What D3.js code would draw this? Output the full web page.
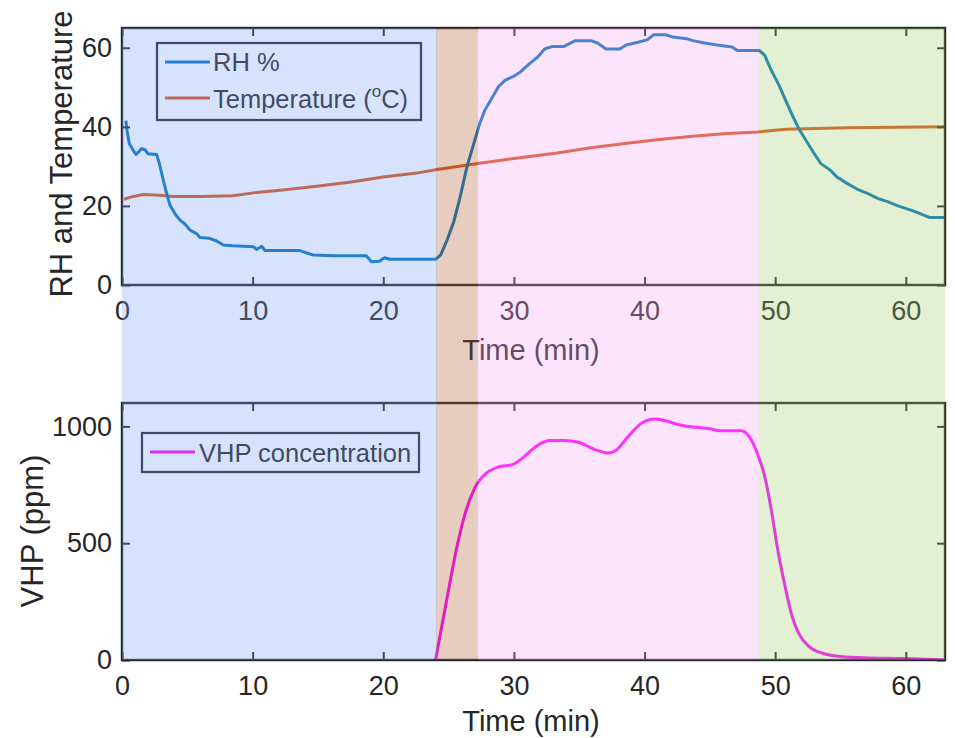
<!DOCTYPE html>
<html>
<head>
<meta charset="utf-8">
<script src="https://cdn.jsdelivr.net/npm/d3@7"></script>
<style>
  html, body { margin: 0; padding: 0; background: #fff; }
  svg text { font-family: "Liberation Sans", Arial, Helvetica, sans-serif; fill: #262626; }
</style>
</head>
<body>
<svg id="chart" width="955" height="738"></svg>
<script>
// ── Data ────────────────────────────────────────────────────────────────────
var rhTime = [0.3, 0.36, 0.56, 0.87, 1.07, 1.25, 1.5, 1.76, 2.0, 2.65, 2.86, 3.16, 3.42, 3.67, 4.06,
  4.44, 4.8, 5.2, 5.7, 5.97, 6.7, 7.2, 7.76, 8.5, 10.05, 10.3, 10.7, 10.95, 13.6, 14.6, 16.2, 18.7,
  19.1, 19.7, 20.1, 20.5, 24.0, 24.4, 24.9, 25.4, 25.9, 26.4, 26.95, 27.38, 27.77, 28.29, 28.8,
  29.34, 29.99, 30.5, 31.2, 31.8, 32.35, 32.9, 33.8, 34.7, 35.9, 36.4, 37.05, 38.1, 38.6, 39.5,
  40.2, 40.7, 41.6, 42.2, 43.2, 43.7, 44.6, 45.55, 46.7, 47.1, 48.8, 49.2, 49.7, 50.3, 50.8, 51.3,
  51.8, 52.35, 52.9, 53.5, 54.2, 54.7, 55.5, 56.3, 57.06, 57.84, 58.6, 59.4, 60.5, 61, 61.8, 63];
var rhValue = [41.6, 39.5, 35.7, 34, 33, 33.6, 34.5, 34.2, 33.2, 33, 30.7, 26.5, 23.1, 20.2, 18,
  16.4, 15.5, 13.9, 13, 12, 11.8, 11.2, 10.1, 9.9, 9.7, 9, 9.8, 8.7, 8.7, 7.6, 7.4, 7.4,
  5.9, 6, 6.9, 6.5, 6.5, 7.6, 11.5, 16, 22.5, 29.8, 36, 40.8, 44.2, 47.1, 50.1,
  51.8, 52.8, 53.9, 56, 57.6, 59.7, 60.3, 60.3, 61.8, 61.8, 61.2, 59.7, 59.7, 60.7, 61.4,
  62, 63.3, 63.3, 62.7, 62.3, 61.8, 61.2, 60.7, 60.2, 59.3, 59.3, 58.1, 54.3, 50.5, 46.7, 43,
  39.6, 36.6, 33.7, 30.7, 29.1, 27.4, 25.7, 24.2, 23.2, 21.9, 21.1, 20, 18.8, 18.2, 17.1, 17.1];

var tempTime = [0.15, 0.87, 1.6, 2.9, 3.9, 5.97, 8.5, 10.05, 12.3, 14.9, 17.4, 20, 22.55, 24.1,
  25.15, 27.25, 30, 33.3, 35.9, 38.5, 41.1, 43.7, 46.3, 48.7, 50.8, 55.5, 63];
var tempValue = [21.7, 22.4, 22.9, 22.7, 22.4, 22.4, 22.6, 23.3, 24, 25, 26, 27.3, 28.3, 29.2,
  29.7, 30.75, 32, 33.4, 34.7, 35.8, 36.8, 37.6, 38.3, 38.7, 39.4, 39.8, 40];

var vhpTime = [24.0, 24.9, 25.7, 26.2, 27.0, 27.9, 28.8, 29.87, 30.65, 31.7, 32.7, 33.8, 35.0, 36.1,
  37.2, 37.8, 38.75, 39.8, 40.8, 41.6, 42.66, 43.7, 45.0, 45.8, 47.4, 48.0, 48.67, 49.2, 49.7,
  50.2, 50.76, 51.3, 51.8, 52.6, 53.6, 55.2, 56.8, 60, 63];
var vhpValue = [0, 271, 500, 614, 736, 800, 826, 836, 864, 914, 939, 940, 931, 903,
  886, 897, 957, 1014, 1031, 1024, 1007, 997, 990, 981, 981, 957, 879, 786, 643,
  471, 314, 186, 114, 57, 29, 14, 10, 6, 0];

// phases (min): dry-down, conditioning, decontamination, aeration
var phaseStart = [0, 24.05, 27.25, 48.75];
var phaseEnd   = [24.1, 27.25, 48.75, 63];

var xTicks    = [0, 10, 20, 30, 40, 50, 60];
var topYTicks = [0, 20, 40, 60];
var botYTicks = [0, 500, 1000];

// ── Styles ──────────────────────────────────────────────────────────────────
var C = {
  rh: "#0072bd",
  temp: "#d95319",
  vhp: "#ff00ff",
  axis: "#262626",
  phases: ["#7aa2f5", "#ac582a", "#f8a5f8", "#a2cd70"],
  phaseAlpha: 0.3
};

var svg = d3.select("#chart");
svg.append("rect").attr("width", 955).attr("height", 738).attr("fill", "#fff");

var x = d3.scaleLinear().domain([0, 63]).range([122, 945]);
var yTop = d3.scaleLinear().domain([0, 65]).range([285, 28]);
var yBot = d3.scaleLinear().domain([0, 1100]).range([660, 403]);

function zip(ts, vs) { return ts.map(function (t, i) { return { t: t, v: vs[i] }; }); }

function drawPanel(y, yTicks, id) {
  var g = svg.append("g");
  var x0 = x.range()[0], x1 = x.range()[1];
  var y0 = y.range()[0], y1 = y.range()[1];

  svg.append("clipPath").attr("id", id)
    .append("rect").attr("x", x0).attr("y", y1).attr("width", x1 - x0).attr("height", y0 - y1);

  var lines = g.append("g").attr("clip-path", "url(#" + id + ")");

  // axes, ticks pointing inwards on all four sides
  function style(a) {
    a.select(".domain").remove();
    a.selectAll(".tick line").attr("stroke", C.axis).attr("stroke-width", 2);
    a.selectAll(".tick text").attr("font-size", 27).style("fill", C.axis);
  }
  g.append("g").attr("transform", "translate(0," + y0 + ")")
    .call(d3.axisBottom(x).tickValues(xTicks).tickSize(-8).tickPadding(16)).call(style);
  g.append("g").attr("transform", "translate(0," + y1 + ")")
    .call(d3.axisTop(x).tickValues(xTicks).tickSize(-8).tickFormat("")).call(style);
  g.append("g").attr("transform", "translate(" + x0 + ",0)")
    .call(d3.axisLeft(y).tickValues(yTicks).tickSize(-8).tickPadding(10).tickFormat(d3.format("d")))
    .call(style);
  g.append("g").attr("transform", "translate(" + x1 + ",0)")
    .call(d3.axisRight(y).tickValues(yTicks).tickSize(-8).tickFormat("")).call(style);

  g.append("rect")
    .attr("x", x0).attr("y", y1).attr("width", x1 - x0).attr("height", y0 - y1)
    .attr("fill", "none").attr("stroke", C.axis).attr("stroke-width", 2.4);

  return { g: g, lines: lines };
}

// ── Top panel: RH and temperature ───────────────────────────────────────────
var topPanel = drawPanel(yTop, topYTicks, "clipTop");
var lineTop = d3.line().x(function (d) { return x(d.t); }).y(function (d) { return yTop(d.v); });

topPanel.lines.append("path").datum(zip(tempTime, tempValue))
  .attr("d", lineTop).attr("fill", "none").attr("stroke", C.temp).attr("stroke-width", 3);
topPanel.lines.append("path").datum(zip(rhTime, rhValue))
  .attr("d", lineTop).attr("fill", "none").attr("stroke", C.rh).attr("stroke-width", 3)
  .attr("stroke-linejoin", "round");

topPanel.g.append("text").attr("x", 531).attr("y", 360).attr("text-anchor", "middle")
  .attr("font-size", 29).text("Time (min)");
topPanel.g.append("text").attr("transform", "translate(72,154) rotate(-90)")
  .attr("text-anchor", "middle").attr("font-size", 31).text("RH and Temperature");

// legend
var legTop = topPanel.g.append("g");
legTop.append("rect").attr("x", 157).attr("y", 43).attr("width", 264).attr("height", 77)
  .attr("fill", "#fff").attr("stroke", C.axis).attr("stroke-width", 2.2);
legTop.append("line").attr("x1", 165).attr("x2", 210).attr("y1", 62).attr("y2", 62)
  .attr("stroke", C.rh).attr("stroke-width", 3);
legTop.append("text").attr("x", 213).attr("y", 71).attr("font-size", 25.5).text("RH %");
legTop.append("line").attr("x1", 165).attr("x2", 210).attr("y1", 98).attr("y2", 98)
  .attr("stroke", C.temp).attr("stroke-width", 3);
var tt = legTop.append("text").attr("x", 213).attr("y", 108).attr("font-size", 25.5);
tt.append("tspan").text("Temperature (");
tt.append("tspan").attr("dy", -11).attr("font-size", 17).text("o");
tt.append("tspan").attr("dy", 11).text("C)");

// ── Bottom panel: VHP ───────────────────────────────────────────────────────
var botPanel = drawPanel(yBot, botYTicks, "clipBot");
botPanel.lines.append("path").datum(zip(vhpTime, vhpValue))
  .attr("d", d3.line().curve(d3.curveMonotoneX)
    .x(function (d) { return x(d.t); }).y(function (d) { return yBot(d.v); }))
  .attr("fill", "none").attr("stroke", C.vhp).attr("stroke-width", 3);

botPanel.g.append("text").attr("x", 531).attr("y", 731).attr("text-anchor", "middle")
  .attr("font-size", 29).text("Time (min)");
botPanel.g.append("text").attr("transform", "translate(43,531) rotate(-90)")
  .attr("text-anchor", "middle").attr("font-size", 31).text("VHP (ppm)");

var legBot = botPanel.g.append("g");
legBot.append("rect").attr("x", 142).attr("y", 433).attr("width", 277).attr("height", 39)
  .attr("fill", "#fff").attr("stroke", C.axis).attr("stroke-width", 2.2);
legBot.append("line").attr("x1", 150).attr("x2", 195).attr("y1", 452).attr("y2", 452)
  .attr("stroke", C.vhp).attr("stroke-width", 3);
legBot.append("text").attr("x", 199).attr("y", 462).attr("font-size", 25.5).text("VHP concentration");

// ── Phase bands, translucent, laid over both panels ─────────────────────────
svg.append("g").selectAll("rect")
  .data(phaseStart.map(function (s, i) { return { s: s, e: phaseEnd[i], c: C.phases[i] }; }))
  .join("rect")
  .attr("x", function (d) { return x(d.s); })
  .attr("width", function (d) { return x(d.e) - x(d.s); })
  .attr("y", yTop.range()[1])
  .attr("height", yBot.range()[0] - yTop.range()[1])
  .attr("fill", function (d) { return d.c; })
  .attr("fill-opacity", C.phaseAlpha);
</script>
</body>
</html>
